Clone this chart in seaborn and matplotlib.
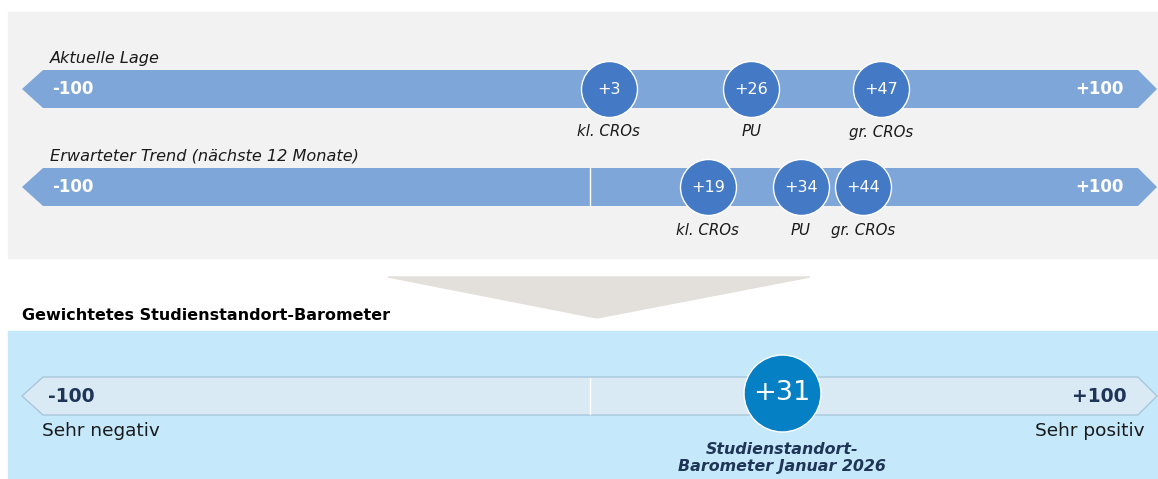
import pandas as pd
import seaborn as sns
import matplotlib.pyplot as plt
from matplotlib.patches import Polygon, Rectangle

# Data
groups = ['kl. CROs', 'PU', 'gr. CROs']
lage_values = [3, 26, 47]
trend_values = [19, 34, 44]
barometer_value = 31
barometer_label = 'Studienstandort-\nBarometer Januar 2026'
row_titles = ['Aktuelle Lage', 'Erwarteter Trend (nächste 12 Monate)']
scale_min, scale_max = -100, 100

# Layout (pixels) - x axis is in score units, y axis in pixel rows
W, H = 1158, 479
ZERO_PX = 590
PX_PER_UNIT = 6.2


def px(x):
    # pixel column -> score units, for decoration only
    return (x - ZERO_PX) / PX_PER_UNIT


sns.set_theme(style='white')
plt.rcParams['font.family'] = ['DejaVu Sans']

fig = plt.figure(figsize=(W / 100, H / 100), dpi=100)
ax = fig.add_axes([0, 0, 1, 1])
ax.set_xlim(px(0), px(W))
ax.set_ylim(H, 0)
ax.axis('off')

# Background panels and funnel
ax.add_patch(Rectangle((px(8), 12), px(1158) - px(8), 246, color='#F2F2F2', zorder=0))
ax.add_patch(Polygon([(px(388), 277), (px(810), 277), (px(597), 318)],
                     closed=True, color='#E3E0DB', zorder=0))
ax.add_patch(Rectangle((px(8), 331), px(1158) - px(8), 148, color='#C5E8FB', zorder=0))


def arrow(yc, face, edge=None, lw=0):
    top, bot = yc - 19, yc + 19
    pts = [(px(22), yc), (px(43), top), (px(1138), top), (px(1157), yc),
           (px(1138), bot), (px(43), bot)]
    ax.add_patch(Polygon(pts, closed=True, facecolor=face,
                         edgecolor=edge if edge else face, linewidth=lw, zorder=1))


row_y = [89, 187]
for yc in row_y:
    arrow(yc, '#7FA6D8')
arrow(396, '#D9EAF5', '#A9C6DA', 1)

# zero markers
ax.plot([0, 0], [168, 206], color='white', lw=1, zorder=2)
ax.plot([0, 0], [378, 414], color='white', lw=1, zorder=2)

# Row titles and end labels
for yc, title in zip(row_y, row_titles):
    ax.text(px(50), yc - 31, title, fontsize=11.6, style='italic',
            color='#1A1A1A', va='center', ha='left')
    ax.text(px(52), yc, str(scale_min), fontsize=12, fontweight='bold',
            color='white', va='center', ha='left')
    ax.text(px(1124), yc, f'+{scale_max}', fontsize=12, fontweight='bold',
            color='white', va='center', ha='right')

# Circles for the groups
df = pd.DataFrame({
    'value': lage_values + trend_values,
    'y': [row_y[0]] * 3 + [row_y[1]] * 3,
    'group': groups * 2,
})
sns.scatterplot(data=df, x='value', y='y', s=1625, color='#4479C5',
                edgecolor='white', linewidth=1, ax=ax, legend=False, zorder=3)
for _, r in df.iterrows():
    ax.text(r['value'], r['y'], f"+{r['value']}", fontsize=11.5, color='white',
            ha='center', va='center', zorder=4)
    ax.text(r['value'], r['y'] + 43, r['group'], fontsize=10.8, style='italic',
            color='#1A1A1A', ha='center', va='center')

# Weighted barometer
ax.text(px(22), 315, 'Gewichtetes Studienstandort-Barometer', fontsize=11.5,
        fontweight='bold', color='black', ha='left', va='center')
ax.text(px(48), 396, str(scale_min), fontsize=13.5, fontweight='bold',
        color='#1F3557', ha='left', va='center')
ax.text(px(1127), 396, f'+{scale_max}', fontsize=13.5, fontweight='bold',
        color='#1F3557', ha='right', va='center')
ax.text(px(42), 431, 'Sehr negativ', fontsize=13.3, color='#1A1A1A',
        ha='left', va='center')
ax.text(px(1145), 431, 'Sehr positiv', fontsize=13.3, color='#1A1A1A',
        ha='right', va='center')

bdf = pd.DataFrame({'value': [barometer_value], 'y': [393]})
sns.scatterplot(data=bdf, x='value', y='y', s=3070, color='#0580C5',
                edgecolor='white', linewidth=1, ax=ax, legend=False, zorder=3)
ax.text(barometer_value, 393, f'+{barometer_value}', fontsize=19.5, color='white',
        ha='center', va='center', zorder=4)
ax.text(barometer_value, 458, barometer_label, fontsize=11.4, style='italic',
        fontweight='bold', color='#1F3557', ha='center', va='center',
        linespacing=1.2)

fig.savefig('out.png', dpi=100)
